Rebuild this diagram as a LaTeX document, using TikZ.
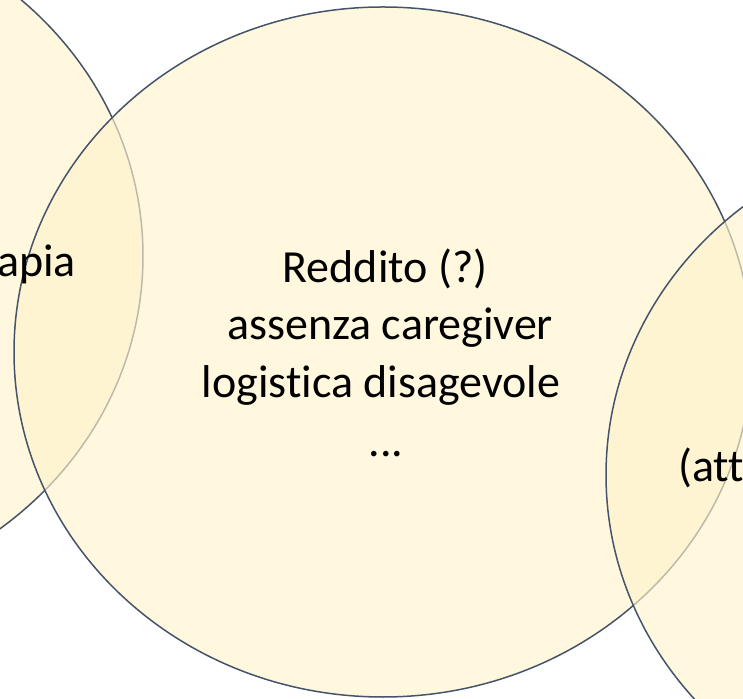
\documentclass[tikz,border=0pt]{standalone}
\usepackage{fontspec}
\setmainfont{Carlito}[Ligatures=NoCommon]
\definecolor{vennfill}{HTML}{FFF2CC}
\definecolor{vennline}{HTML}{44546A}
\begin{document}
\begin{tikzpicture}[x=1pt,y=1pt,
  venn/.style={draw=vennline,line width=1.5pt,fill=vennfill,fill opacity=0.65,draw opacity=1},
  lbl/.style={font=\fontsize{46}{57}\selectfont,text=black,inner sep=0pt}]
\useasboundingbox (0,0) rectangle (743,698);
\clip (0,0) rectangle (743,698);
% sets
\draw[venn] (-226,442) ellipse [x radius=369, y radius=345];
\draw[venn] (383,346) ellipse [x radius=369, y radius=345];
\draw[venn] (975,223) ellipse [x radius=369, y radius=345];
% texts
\node[lbl,anchor=base east] (lefttext) at (76,421) {apia};
\node[lbl,anchor=base] (l1) at (385,415) {Reddito (?)};
\node[lbl,anchor=base] (l2) at (390,358) {assenza caregiver};
\node[lbl,anchor=base] (l3) at (381,300) {logistica disagevole};
\node[lbl,anchor=base] (l4) at (386,241) {...};
\node[lbl,anchor=base west] (righttext) at (678,216) {(att};
\end{tikzpicture}
\end{document}
